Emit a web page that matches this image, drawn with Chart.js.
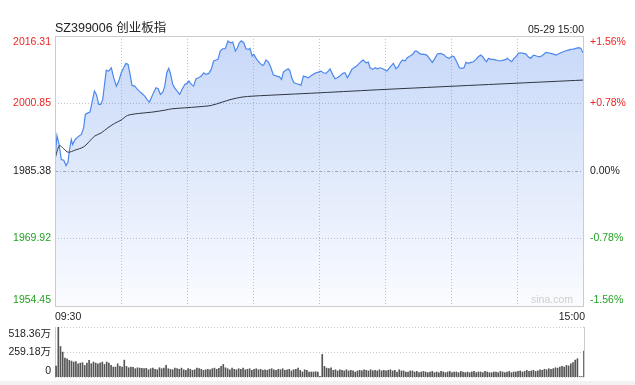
<!DOCTYPE html>
<html>
<head>
<meta charset="utf-8">
<script src="https://cdn.jsdelivr.net/npm/chart.js@4.4.1/dist/chart.umd.min.js"></script>
<style>
  html, body { margin: 0; padding: 0; background: #fff; }
  #wrap { position: relative; width: 635px; height: 385px; overflow: hidden; }
  #main { position: absolute; left: 0; top: 0; }
  #vol { position: absolute; left: 0; top: 306px; }
  #band { position: absolute; left: 0; top: 381px; width: 635px; height: 4px; background: #f2f2f2; }
</style>
</head>
<body>
<div id="wrap">
  <canvas id="main" width="635" height="312"></canvas>
  <canvas id="vol" width="635" height="79"></canvas>
  <div id="band"></div>
</div>
<script>
// ---- data (minutes since 09:30, lunch break removed: 0..240) ----
var titleText = 'SZ399006 创业板指';
var dateText = '05-29 15:00';
var timeLabels = ['09:30', '15:00'];

var priceTicks = [2016.31, 2000.85, 1985.38, 1969.92, 1954.45];
var pctTicks = ['+1.56%', '+0.78%', '0.00%', '-0.78%', '-1.56%'];
var prevClose = 1985.38;

var volTicks = [518.36, 259.18, 0];
var volTickLabels = ['518.36万', '259.18万', '0'];

var priceMinutes = [0,0.9,1.7,2.9,4,5,5.9,6.5,7.4,8,9.2,10.8,12,13,13.8,15,15.9,16.8,17.9,18.8,
  19.9,20.8,21.7,22.6,23.3,24.4,25.6,26.7,27.9,29,30.1,31.2,32.3,33.2,34,35,36.2,37.3,38.3,39.5,
  40.8,41.8,42.9,43.8,44.9,45.9,46.9,47.9,49,49.9,50.8,51.7,52.4,53.5,54.4,55.5,56.7,57.7,59,60,
  60.8,62,63,64.1,65.3,66.5,67.6,68.6,69.9,71,72.1,73.2,74.1,75.1,76.2,77.4,78.6,79.7,80.8,82,
  82.9,83.8,84.7,85.8,86.8,88,88.6,89.6,90.3,91.7,93.2,94.4,95,95.9,97,98,99.2,100.8,102,103,
  103.8,105,106,106.8,107.6,108.6,109.9,111,111.8,112.9,114.1,115.1,116.2,117.4,118.6,119.7,120.8,122,123.2,124.2,
  125,126.2,127.3,128.3,129.5,130.8,131.8,132.9,133.8,134.9,135.9,137.1,138.3,139.4,140.1,141.4,142.4,143.2,144.4,145.5,
  146.5,147.7,149,150,150.8,152,153,153.8,155,156,157.1,158,159.1,160.1,161.4,162.6,163.6,164.4,165.6,166.7,
  167.4,169,170.5,171.5,172.7,173.8,175.3,176.8,178,179.2,180.5,181.4,182.6,183.8,184.9,185.9,186.8,187.9,189,190.1,
  191.4,192.4,193.5,194.4,195.5,196.2,197,198,199.2,200.5,201.5,202.6,203.8,205,205.6,206.5,207.6,208.6,209.5,210.6,
  211.7,212.9,214.1,215.1,216.2,217.1,217.7,218.9,220.1,221.2,222.3,223.2,224.2,225.3,226.5,227.7,228.8,229.9,231,232.3,
  233.3,234.4,235.6,236.8,237.9,239,240];
var priceValues = [1988.15,1993.52,1991.82,1988.01,1987.85,1986.63,1987.39,1989.91,1992.60,1991.45,1992.60,1993.36,1993.75,1995.26,1998.34,1998.70,1998.86,2001.00,2003.68,2002.93,
  2000.63,2000.63,2001.78,2005.59,2008.43,2008.27,2009.03,2006.73,2004.83,2005.98,2007.88,2009.03,2010.04,2009.81,2007.88,2004.99,2004.83,2004.21,2003.68,2003.15,
  2002.54,2001.78,2001.16,2002.14,2003.45,2004.44,2004.21,2002.93,2003.45,2004.83,2007.88,2008.89,2007.88,2005.22,2004.44,2003.68,2002.93,2004.07,2005.22,2005.45,
  2005.98,2005.22,2004.83,2006.51,2006.73,2007.13,2007.88,2007.52,2007.74,2008.66,2010.57,2010.80,2010.96,2012.86,2013.39,2013.39,2015.16,2014.77,2014.93,2012.86,
  2013.62,2014.77,2015.23,2014.77,2013.39,2013.25,2013.48,2011.72,2012.11,2010.96,2010.04,2009.58,2009.81,2010.80,2010.34,2009.26,2007.42,2007.13,2006.96,2006.37,
  2008.04,2008.50,2008.80,2008.34,2006.73,2005.59,2005.36,2005.22,2004.99,2007.13,2006.96,2006.73,2007.13,2007.52,2007.88,2008.04,2008.27,2007.88,2007.74,2008.27,
  2008.80,2007.52,2006.51,2006.73,2007.13,2007.74,2007.88,2006.73,2007.52,2008.66,2009.03,2009.42,2010.04,2010.57,2010.80,2010.18,2010.34,2009.03,2008.66,2009.03,
  2008.80,2009.03,2008.80,2008.50,2008.27,2009.03,2009.58,2010.04,2008.80,2009.26,2010.34,2010.80,2010.57,2011.32,2011.72,2012.11,2012.86,2012.86,2012.33,2012.11,
  2012.17,2011.94,2010.96,2010.27,2011.19,2012.17,2012.33,2012.01,2011.42,2011.19,2011.72,2011.55,2010.41,2009.03,2008.89,2009.03,2010.27,2010.04,2010.27,2010.41,
  2010.96,2011.55,2011.94,2011.55,2010.80,2010.41,2011.19,2010.96,2010.96,2010.80,2010.64,2010.64,2010.80,2010.96,2011.19,2010.80,2010.41,2011.19,2011.55,2012.33,
  2012.47,2012.33,2012.17,2011.55,2011.19,2011.72,2011.94,2011.72,2011.55,2011.72,2012.17,2012.56,2012.47,2012.33,2012.17,2011.94,2012.17,2012.47,2012.70,2012.93,
  2013.09,2013.25,2013.32,2013.48,2013.62,2013.48,2012.47];

var avgMinutes = [0,2,4,6,9,13,15,18,21,24,27,30,33,38,44,50,53,59,65,71,76,80,85,90,120,150,175,210,240];
var avgValues = [1988.15,1991.20,1990.44,1989.68,1990.14,1990.90,1991.82,1993.36,1994.11,1995.26,1996.27,1997.03,1998.11,1998.56,1998.86,1999.32,1999.62,1999.85,2000.08,2000.40,
  2001.16,2001.78,2002.31,2002.54,2003.29,2004.07,2004.67,2005.50,2006.21];

// volume in 万, one bar per minute (0..240)
var volumes = [
  113,518,316,258,196,189,172,165,155,161,
  137,144,148,120,144,172,137,155,144,137,
  144,155,130,155,144,120,103,103,137,110,
  103,175,110,96,103,100,86,96,92,90,
  86,90,75,86,92,80,75,96,86,92,
  120,86,80,75,92,86,80,92,75,69,
  86,80,69,75,92,86,80,69,75,80,
  75,86,92,80,90,110,130,96,86,75,
  92,80,75,86,80,92,75,80,86,69,
  80,86,75,80,69,75,69,80,86,75,
  69,80,75,86,69,75,80,63,75,80,
  92,69,52,75,69,52,52,52,55,50,
  8,234,110,92,86,96,69,75,63,75,
  69,63,75,63,69,63,52,63,69,63,
  75,69,63,75,63,69,63,75,63,69,
  63,69,75,63,69,52,75,63,63,52,
  52,63,63,52,58,45,52,58,52,45,
  52,58,45,52,45,58,52,45,52,58,
  45,52,52,45,58,52,45,52,45,52,
  58,45,52,52,45,58,52,45,45,52,
  52,45,58,52,45,52,58,45,52,52,
  58,63,52,58,69,58,63,69,58,63,
  75,69,80,75,86,80,86,96,92,103,
  110,103,120,115,137,150,175,190,5,5,
  268];

// ---- styles ----
var RED = '#ee2424';
var GREEN = '#24a024';
var TXT = '#222';
var FONT = "'Liberation Sans', Arial, Helvetica, sans-serif";

function tickColor(i) {
  if (i < 2) return RED;
  if (i > 2) return GREEN;
  return TXT;
}

function hline(ctx, x1, x2, y, color, dash) {
  ctx.save();
  ctx.strokeStyle = color;
  ctx.lineWidth = 1;
  ctx.setLineDash(dash || []);
  ctx.beginPath();
  ctx.moveTo(x1, Math.round(y) + 0.5);
  ctx.lineTo(x2, Math.round(y) + 0.5);
  ctx.stroke();
  ctx.restore();
}
function vline(ctx, x, y1, y2, color, dash) {
  ctx.save();
  ctx.strokeStyle = color;
  ctx.lineWidth = 1;
  ctx.setLineDash(dash || []);
  ctx.beginPath();
  ctx.moveTo(Math.round(x) + 0.5, y1);
  ctx.lineTo(Math.round(x) + 0.5, y2);
  ctx.stroke();
  ctx.restore();
}

var mainDecor = {
  id: 'mainDecor',
  beforeDatasetsDraw(chart) {
    var ctx = chart.ctx, a = chart.chartArea;
    var xs = chart.scales.x, ys = chart.scales.y;
    for (var m = 30; m < 240; m += 30) {
      vline(ctx, xs.getPixelForValue(m), a.top, a.bottom, '#c4c4c4', [1, 2]);
    }
    hline(ctx, a.left, a.right, ys.getPixelForValue(priceTicks[1]), '#c4c4c4', [1, 2]);
    hline(ctx, a.left, a.right, ys.getPixelForValue(priceTicks[3]), '#c4c4c4', [1, 2]);
    hline(ctx, a.left, a.right, ys.getPixelForValue(prevClose), '#a8a8a8', [3, 2, 1, 2]);
  },
  afterDatasetsDraw(chart) {
    var ctx = chart.ctx, a = chart.chartArea;
    var ys = chart.scales.y;
    // frame
    ctx.save();
    ctx.strokeStyle = '#cccccc';
    ctx.lineWidth = 1;
    ctx.strokeRect(Math.round(a.left) + 0.5, Math.round(a.top) + 0.5,
      Math.round(a.right - a.left), Math.round(a.bottom - a.top));
    ctx.restore();

    ctx.save();
    ctx.textBaseline = 'middle';
    // watermark
    ctx.font = '10.5px ' + FONT;
    ctx.fillStyle = '#cfcfcf';
    ctx.textAlign = 'right';
    ctx.fillText('sina.com', 573, a.bottom - 6);

    // y tick labels
    priceTicks.forEach(function (v, i) {
      var y = ys.getPixelForValue(v);
      if (i === 0) y += 6;
      if (i === priceTicks.length - 1) y -= 6;
      ctx.fillStyle = tickColor(i);
      ctx.textAlign = 'right';
      ctx.fillText(v.toFixed(2), a.left - 4, y);
      ctx.textAlign = 'left';
      ctx.fillText(pctTicks[i], a.right + 7, y);
    });

    // title and date
    ctx.fillStyle = TXT;
    ctx.font = '12.5px ' + FONT + ", 'Noto Sans CJK SC'";
    ctx.textAlign = 'left';
    ctx.fillText(titleText, a.left, 29);
    ctx.font = '10.5px ' + FONT;
    ctx.textAlign = 'right';
    ctx.fillText(dateText, a.right + 1, 30);
    ctx.restore();
  }
};

var volDecor = {
  id: 'volDecor',
  beforeDatasetsDraw(chart) {
    var ctx = chart.ctx, a = chart.chartArea, ys = chart.scales.y;
    volTicks.forEach(function (v) {
      hline(ctx, a.left, a.right, ys.getPixelForValue(v), '#c8c8c8', [1, 2]);
    });
    vline(ctx, a.left, a.top, a.bottom, '#cccccc');
    vline(ctx, a.right, a.top, a.bottom, '#cccccc');
  },
  afterDatasetsDraw(chart) {
    var ctx = chart.ctx, a = chart.chartArea, ys = chart.scales.y, xs = chart.scales.x;
    ctx.save();
    ctx.font = '10.5px ' + FONT + ", 'Noto Sans CJK SC'";
    ctx.fillStyle = TXT;
    ctx.textAlign = 'right';
    ctx.textBaseline = 'middle';
    volTicks.forEach(function (v, i) {
      var y = ys.getPixelForValue(v);
      if (i === 0) y += 7;
      if (i === volTicks.length - 1) y -= 6;
      ctx.fillText(volTickLabels[i], a.left - 4, y);
    });
    // time labels above the volume panel
    ctx.textAlign = 'left';
    ctx.fillText(timeLabels[0], a.left, a.top - 10);
    ctx.textAlign = 'right';
    ctx.fillText(timeLabels[1], a.right + 1, a.top - 10);
    ctx.restore();
  }
};

var pricePoints = priceMinutes.map(function (m, i) { return { x: m, y: priceValues[i] }; });
var avgPoints = avgMinutes.map(function (m, i) { return { x: m, y: avgValues[i] }; });
var volPoints = volumes.map(function (v, i) { return { x: i, y: v }; });

new Chart(document.getElementById('main').getContext('2d'), {
  type: 'line',
  data: {
    datasets: [
      {
        data: avgPoints,
        borderColor: '#2f3640',
        borderWidth: 1,
        pointRadius: 0,
        fill: false,
        tension: 0.3
      },
      {
        data: pricePoints,
        borderColor: '#4d88ee',
        borderWidth: 1.2,
        pointRadius: 0,
        tension: 0,
        fill: 'start',
        backgroundColor: function (c) {
          var a = c.chart.chartArea;
          if (!a) return 'rgba(90,140,235,0.2)';
          var g = c.chart.ctx.createLinearGradient(0, a.top, 0, a.bottom);
          g.addColorStop(0, 'rgba(90,140,235,0.34)');
          g.addColorStop(1, 'rgba(90,140,235,0.03)');
          return g;
        }
      }
    ]
  },
  options: {
    responsive: false,
    animation: false,
    devicePixelRatio: 1,
    layout: { padding: { left: 55, right: 52, top: 36, bottom: 6 } },
    plugins: { legend: { display: false }, tooltip: { enabled: false } },
    scales: {
      x: { type: 'linear', min: 0, max: 240, display: false },
      y: { type: 'linear', min: priceTicks[4], max: priceTicks[0], display: false }
    }
  },
  plugins: [mainDecor]
});

new Chart(document.getElementById('vol').getContext('2d'), {
  type: 'bar',
  data: {
    datasets: [{
      data: volPoints,
      backgroundColor: '#555555',
      barThickness: 1
    }]
  },
  options: {
    responsive: false,
    animation: false,
    devicePixelRatio: 1,
    layout: { padding: { left: 55, right: 51, top: 21, bottom: 8 } },
    plugins: { legend: { display: false }, tooltip: { enabled: false } },
    scales: {
      x: { type: 'linear', min: -0.5, max: 240, offset: false, display: false },
      y: { min: 0, max: volTicks[0], display: false }
    }
  },
  plugins: [volDecor]
});
</script>
</body>
</html>
